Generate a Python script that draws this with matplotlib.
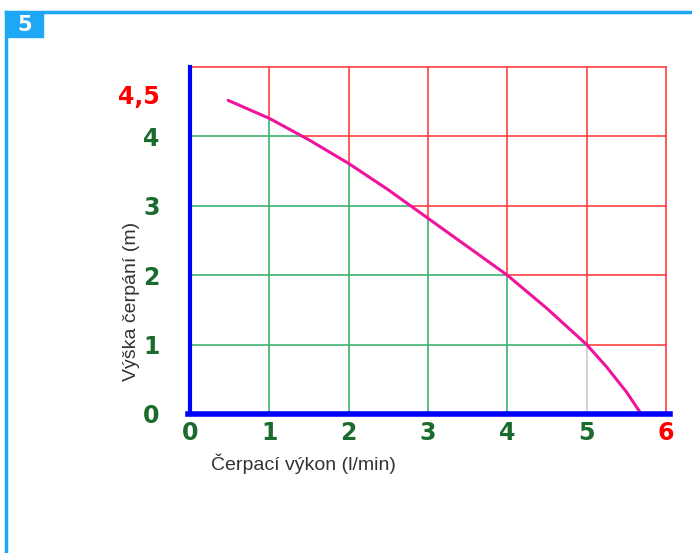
import numpy as np
import matplotlib
matplotlib.use("Agg")
import matplotlib.pyplot as plt
from matplotlib.patches import Rectangle
from matplotlib.lines import Line2D

# curve
flow = [0.48, 1.0, 1.5, 2.0, 2.5, 3.0, 3.5, 4.0, 4.5, 5.0, 5.25, 5.5, 5.67]
head = [4.52, 4.26, 3.95, 3.61, 3.23, 2.82, 2.41, 2.00, 1.52, 1.00, 0.68, 0.32, 0.03]

x_ticks = [0, 1, 2, 3, 4, 5, 6]
x_labels = ["0", "1", "2", "3", "4", "5", "6"]
y_ticks = [0, 1, 2, 3, 4, 4.6]
y_labels = ["0", "1", "2", "3", "4", "4,5"]

GREEN = "#3cb371"
RED = "#ff4040"
LABEL_GREEN = "#1b6b2e"
BLUE = "#0000ff"
FRAME = "#1ea7f5"

fig = plt.figure(figsize=(6.92, 5.53), dpi=100)

# outer frame + badge
fig.add_artist(Line2D([0.008, 1.0], [0.978, 0.978], color=FRAME, lw=2.5, transform=fig.transFigure))
fig.add_artist(Line2D([0.008, 0.008], [0.0, 0.978], color=FRAME, lw=2.5, transform=fig.transFigure))
fig.add_artist(Rectangle((0.008, 0.933), 0.054, 0.045, color=FRAME, transform=fig.transFigure))
fig.text(0.036, 0.955, "5", color="white", fontsize=15, fontweight="heavy",
         ha="center", va="center", family="DejaVu Sans")

ax = fig.add_axes([0.2746, 0.2514, 0.6878, 0.6274])
ax.set_xlim(0, 6)
ax.set_ylim(0, 5)

fx = np.array(flow)
fy = np.array(head)

# vertical grid lines: green below the curve, red above
for k in range(1, 7):
    if k <= fx[-1]:
        yc = np.interp(k, fx, fy)
        below = "#cccccc" if k == 5 else GREEN
        ax.plot([k, k], [0, yc], color=below, lw=1.2, zorder=1, clip_on=False)
    else:
        yc = 0
    ax.plot([k, k], [yc, 5], color=RED, lw=1.2, zorder=1, clip_on=False)

# horizontal grid lines
for k in range(1, 6):
    if k <= fy[0]:
        xc = np.interp(k, fy[::-1], fx[::-1])
        ax.plot([0, xc], [k, k], color=GREEN, lw=1.2, zorder=1, clip_on=False)
    else:
        xc = 0
    ax.plot([xc, 6], [k, k], color=RED, lw=1.2, zorder=1, clip_on=False)

ax.plot(flow, head, color="#f0139c", lw=2.2, zorder=3,
        solid_joinstyle="round", solid_capstyle="round")

for s in ["top", "right"]:
    ax.spines[s].set_visible(False)
ax.spines["left"].set_color(BLUE)
ax.spines["left"].set_linewidth(3)
ax.spines["bottom"].set_color(BLUE)
ax.spines["bottom"].set_linewidth(4)
ax.spines["bottom"].set_zorder(4)
ax.spines["bottom"].set_bounds(-0.03, 6.05)

ax.set_xticks(x_ticks)
ax.set_xticklabels(x_labels)
ax.set_yticks(y_ticks)
ax.set_yticklabels(y_labels)
ax.tick_params(length=0)
ax.tick_params(axis="x", pad=5)
ax.tick_params(axis="y", pad=22)
for lbl in ax.get_xticklabels() + ax.get_yticklabels():
    lbl.set_family("DejaVu Sans")
    lbl.set_fontweight("bold")
    lbl.set_fontsize(17)
    lbl.set_color(LABEL_GREEN)
ax.get_xticklabels()[-1].set_color("red")
ax.get_yticklabels()[-1].set_color("red")

fig.text(0.305, 0.162, "Čerpací výkon (l/min)", fontsize=14, color="#333333",
         ha="left", va="center", family="Liberation Sans")
fig.text(0.19, 0.455, "Výška čerpání (m)", fontsize=14, color="#333333",
         ha="center", va="center", rotation=90, family="Liberation Sans")

fig.savefig("out.png", dpi=100)
